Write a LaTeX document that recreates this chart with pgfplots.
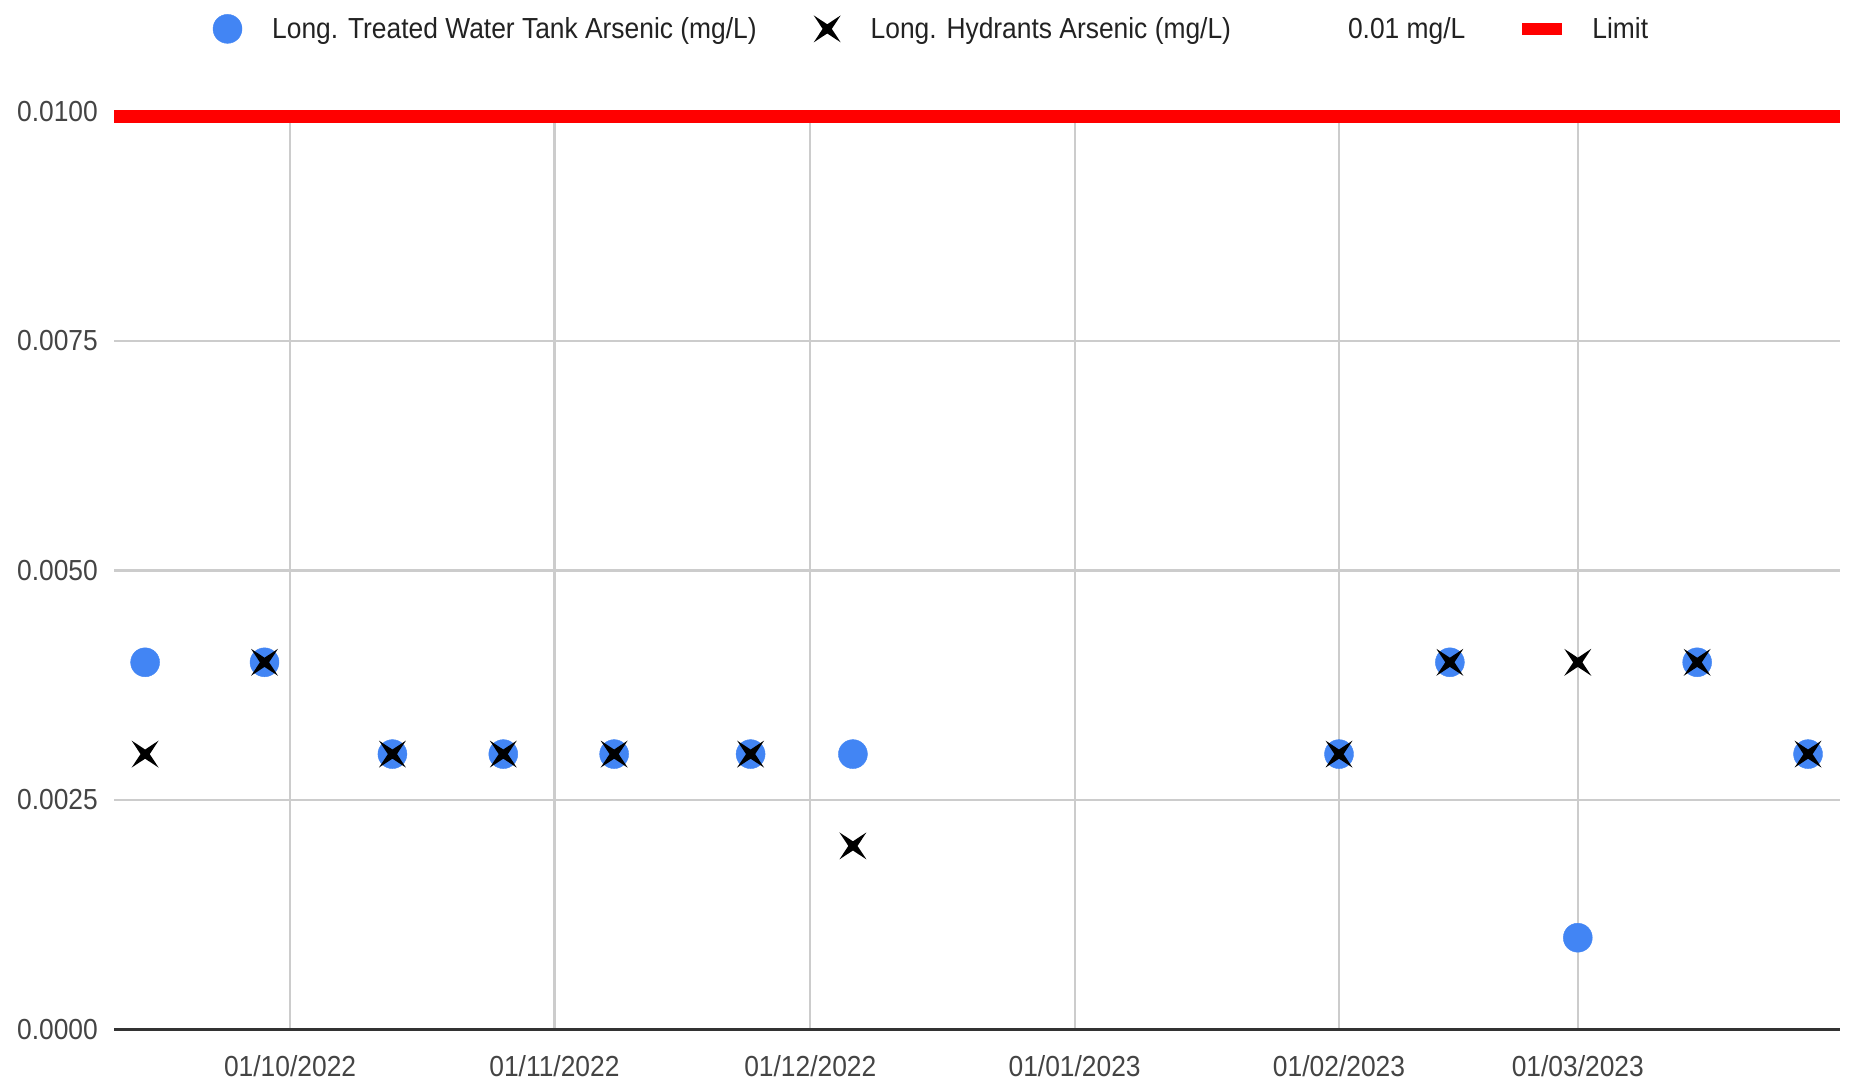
\documentclass[border=0pt]{standalone}
\usepackage{pgfplots}
\pgfplotsset{compat=1.18}
\usepackage{fontspec}
\setmainfont{Liberation Sans}[FakeStretch=0.91]
\definecolor{gblue}{HTML}{4285F4}
\definecolor{ltext}{HTML}{222222}
\definecolor{tlabel}{HTML}{444444}
\definecolor{gridc}{HTML}{CCCCCC}
\definecolor{basec}{HTML}{333333}
\definecolor{limred}{HTML}{FF0000}
\pgfdeclareplotmark{xstar}{%
  \pgfpathmoveto{\pgfqpoint{\pgfplotmarksize}{\pgfplotmarksize}}%
  \pgfpathlineto{\pgfqpoint{0pt}{0.34\pgfplotmarksize}}%
  \pgfpathlineto{\pgfqpoint{-\pgfplotmarksize}{\pgfplotmarksize}}%
  \pgfpathlineto{\pgfqpoint{-0.34\pgfplotmarksize}{0pt}}%
  \pgfpathlineto{\pgfqpoint{-\pgfplotmarksize}{-\pgfplotmarksize}}%
  \pgfpathlineto{\pgfqpoint{0pt}{-0.34\pgfplotmarksize}}%
  \pgfpathlineto{\pgfqpoint{\pgfplotmarksize}{-\pgfplotmarksize}}%
  \pgfpathlineto{\pgfqpoint{0.34\pgfplotmarksize}{0pt}}%
  \pgfpathclose
  \pgfusepathqfill
}
\begin{document}
\begin{tikzpicture}
\begin{axis}[
  name=ax,
  scale only axis,
  width=1726bp, height=918bp,
  xmin=-20.65, xmax=181.75,
  ymin=0, ymax=0.01,
  clip=false,
  axis line style={draw=none},
  tick style={draw=none},
  major tick length=0pt,
  grid=major,
  major grid style={gridc, line width=2.2bp},
  xtick={0,31,61,92,123,151},
  xticklabels={01/10/2022,01/11/2022,01/12/2022,01/01/2023,01/02/2023,01/03/2023},
  ytick={0,0.0025,0.005,0.0075,0.01},
  yticklabels={0.0000,0.0025,0.0050,0.0075,0.0100},
  scaled y ticks=false,
  tick label style={font=\fontsize{29bp}{34bp}\selectfont, text=tlabel, inner sep=0pt},
  xticklabel style={anchor=north, yshift=-26bp},
  yticklabel style={anchor=east, xshift=-16bp},
  legend columns=4,
  legend style={draw=none, fill=none, at={(axis description cs:0.0554,1.09)}, anchor=west,
    font=\fontsize{29bp}{34bp}\selectfont, text=ltext,
    nodes={inner sep=0pt},
    /tikz/every odd column/.append style={column sep=30bp},
    /tikz/every even column/.append style={column sep=57bp}},
]
\addplot[basec, line width=3bp, forget plot] coordinates {(-20.65,0) (181.75,0)};
\addplot[only marks, mark=*, mark size=14.5bp, color=gblue,
  legend image code/.code={\fill[gblue] (0bp,0bp) circle (14.5bp);}]
  coordinates {
  (-17,0.004) (-3,0.004) (12,0.003) (25,0.003) (38,0.003) (54,0.003)
  (66,0.003) (123,0.003) (136,0.004) (151,0.001) (165,0.004) (178,0.003)
  };
\addlegendentry{Long. Treated Water Tank Arsenic (mg/L)}
\addplot[only marks, mark=xstar, mark size=13.5bp, color=black, fill=black,
  legend image code/.code={\draw[black, fill=black, mark=xstar, mark size=13.5bp, only marks] plot coordinates {(0bp,0bp)};}]
  coordinates {
  (-17,0.003) (-3,0.004) (12,0.003) (25,0.003) (38,0.003) (54,0.003)
  (66,0.002) (123,0.003) (136,0.004) (151,0.004) (165,0.004) (178,0.003)
  };
\addlegendentry{Long. Hydrants Arsenic (mg/L)}
\addplot[draw=none,
  legend image code/.code={\path (-15bp,-5bp) rectangle (15bp,5bp);}]
  coordinates {(0,0.01)};
\addlegendentry{0.01 mg/L}
\addplot[limred, line width=13bp,
  legend image code/.code={\path[fill=limred, draw=none, line width=0pt] (-20bp,-6bp) rectangle (20bp,6bp);}]
  coordinates {(-20.65,0.00995) (181.75,0.00995)};
\addlegendentry{Limit}
\end{axis}
\path ([xshift=-114bp,yshift=-57.5bp]ax.south west) rectangle ([xshift=9bp,yshift=111.5bp]ax.north east);
\end{tikzpicture}
\end{document}
